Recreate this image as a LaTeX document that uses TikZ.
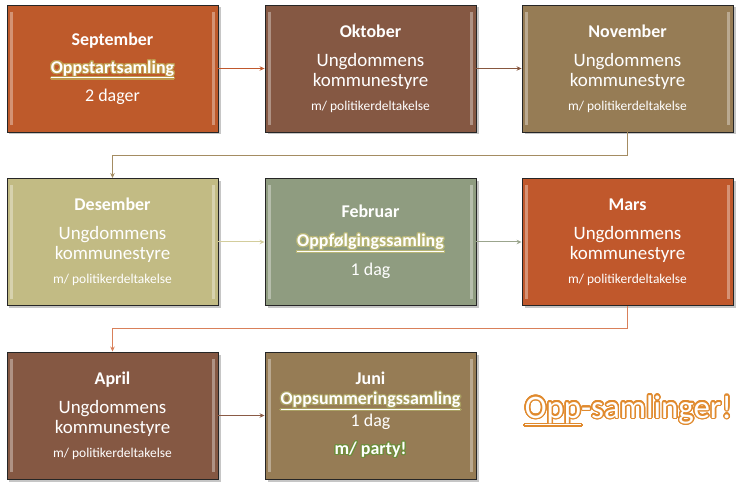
\documentclass[tikz,border=0pt]{standalone}
\usepackage{fontspec}
\setmainfont{Carlito}
\usepackage{contour}
\usetikzlibrary{shadows,arrows.meta}
\contourlength{1.1bp}
\contournumber{24}
\definecolor{sepC}{HTML}{BE5A2B}
\definecolor{oktC}{HTML}{855843}
\definecolor{novC}{HTML}{967C55}
\definecolor{desC}{HTML}{C2BB84}
\definecolor{febC}{HTML}{8F9C80}
\definecolor{marC}{HTML}{C0582C}
\definecolor{a1C}{HTML}{C0582D}
\definecolor{a2C}{HTML}{87573F}
\definecolor{a3C}{HTML}{A48C62}
\definecolor{a4C}{HTML}{D3CD9C}
\definecolor{a5C}{HTML}{9BA58D}
\definecolor{a6C}{HTML}{D9805A}
\definecolor{a7C}{HTML}{8A5A45}
\definecolor{glowA}{HTML}{C09A4C}
\definecolor{glowB}{HTML}{B8B676}
\definecolor{glowC}{HTML}{AAA062}
\definecolor{glowD}{HTML}{6E8E3C}
\definecolor{oppC}{HTML}{E08A2E}
\newcommand\glowtext[2]{\contour{#1}{\textcolor{white}{#2}}}
\begin{document}
\begin{tikzpicture}[x=1bp,y=-1bp,
  box/.style={draw=black!85, line width=0.9bp, minimum width=211bp, minimum height=127bp,
    inner sep=0pt, text=white, align=center, font=\fontsize{18}{22}\selectfont,
    drop shadow={shadow xshift=2.5bp, shadow yshift=-2.5bp, opacity=0.45}},
  bevel/.style={white, opacity=0.35, line width=2.5bp},
  conn/.style={line width=1bp, -{Stealth[length=5bp,width=4.5bp]}}]
\useasboundingbox (0,0) rectangle (737,483);
% row 1
\node[box, fill=sepC] (sep) at (112.5,68.5) {%
  \textbf{September}\\[6bp]
  \textbf{\glowtext{glowA}{\underline{Oppstartsamling}}}\\[6bp]
  2 dager};
\node[box, fill=oktC] (okt) at (370.5,68.5) {%
  \textbf{Oktober}\\[7bp]
  {\fontsize{19}{20}\selectfont Ungdommens}\\[-2bp]
  {\fontsize{19}{20}\selectfont kommunestyre}\\[2bp]
  {\fontsize{13.5}{14}\selectfont m/ politikerdeltakelse}};
\node[box, fill=novC] (nov) at (627.5,68.5) {%
  \textbf{November}\\[7bp]
  {\fontsize{19}{20}\selectfont Ungdommens}\\[-2bp]
  {\fontsize{19}{20}\selectfont kommunestyre}\\[2bp]
  {\fontsize{13.5}{14}\selectfont m/ politikerdeltakelse}};
% row 2
\node[box, fill=desC] (des) at (112.5,242) {%
  \textbf{Desember}\\[7bp]
  {\fontsize{19}{20}\selectfont Ungdommens}\\[-2bp]
  {\fontsize{19}{20}\selectfont kommunestyre}\\[2bp]
  {\fontsize{13.5}{14}\selectfont m/ politikerdeltakelse}};
\node[box, fill=febC] (feb) at (370.5,242) {%
  \textbf{Februar}\\[7bp]
  \textbf{\glowtext{glowB}{\underline{Oppfølgingssamling}}}\\[7bp]
  1 dag};
\node[box, fill=marC] (mar) at (627.5,242) {%
  \textbf{Mars}\\[7bp]
  {\fontsize{19}{20}\selectfont Ungdommens}\\[-2bp]
  {\fontsize{19}{20}\selectfont kommunestyre}\\[2bp]
  {\fontsize{13.5}{14}\selectfont m/ politikerdeltakelse}};
% row 3
\node[box, fill=oktC] (apr) at (112.5,415.5) {%
  \textbf{April}\\[7bp]
  {\fontsize{19}{20}\selectfont Ungdommens}\\[-2bp]
  {\fontsize{19}{20}\selectfont kommunestyre}\\[2bp]
  {\fontsize{13.5}{14}\selectfont m/ politikerdeltakelse}};
\node[box, fill=novC] (jun) at (370.5,415.5) {%
  \textbf{Juni}\\[-2bp]
  \textbf{\glowtext{glowC}{\underline{Oppsummeringssamling}}}\\
  1 dag\\[6bp]
  \textbf{\glowtext{glowD}{m/ party!}}};
% bevels
\foreach \n in {sep,okt,nov,des,feb,mar,apr,jun}{
  \draw[bevel] ([xshift=5bp,yshift=-7bp]\n.north west) -- ([xshift=5bp,yshift=7bp]\n.south west);
  \draw[bevel] ([xshift=-5bp,yshift=-7bp]\n.north east) -- ([xshift=-5bp,yshift=7bp]\n.south east);
}
% connectors
\draw[conn, a1C] (sep) -- (okt);
\draw[conn, a2C] (okt) -- (nov);
\draw[conn, a3C] (nov.south) -- ++(0,23) -| (des.north);
\draw[conn, a4C] (des) -- (feb);
\draw[conn, a5C] (feb) -- (mar);
\draw[conn, a6C] (mar.south) -- ++(0,23) -| (apr.north);
\draw[conn, a7C] (apr) -- (jun);
% title
\node[anchor=base, inner sep=0pt, font=\fontsize{33}{36}\selectfont] (opp) at (628.5,418)
  {\contourlength{1.4bp}\contour{oppC}{\textcolor{white}{\underline{Opp}-samlinger!}}};
\end{tikzpicture}
\end{document}
